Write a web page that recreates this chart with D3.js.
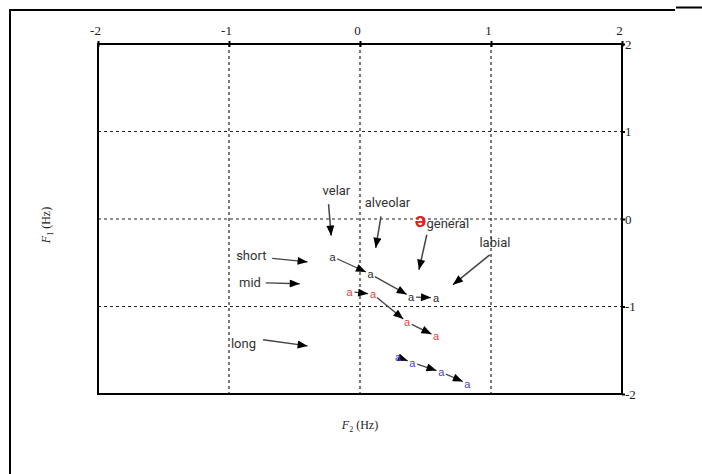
<!DOCTYPE html>
<html><head><meta charset="utf-8">
<script src="https://cdn.jsdelivr.net/npm/d3@7"></script>
<style>body{margin:0;background:#fff}svg{display:block}</style>
</head><body>
<svg id="c" width="702" height="474"></svg>
<script>
// ---- data ----
const ticks = [-2, -1, 0, 1, 2];
const gridVals = [-1, 0, 1];
const seriesNames = ["short", "mid", "long"];
const shortF2 = [-0.21, 0.08, 0.39, 0.58];
const shortF1 = [-0.43, -0.63, -0.89, -0.90];
const midF2 = [-0.08, 0.10, 0.36, 0.58];
const midF1 = [-0.83, -0.86, -1.18, -1.34];
const longF2 = [0.29, 0.40, 0.62, 0.82];
const longF1 = [-1.58, -1.64, -1.75, -1.88];
const seriesColors = ["#2a2a2a", "#e8403a", "#4040e0"];
const generalPoint = [0.46, -0.01];
const annLabels = ["velar", "alveolar", "general", "labial", "short", "mid", "long"];
const annTextX = [-0.18, 0.21, 0.67, 1.03, -0.83, -0.84, -0.89];
const annTextY = [0.33, 0.19, -0.05, -0.27, -0.42, -0.73, -1.42];
const annFromX = [-0.24, 0.16, 0.51, 0.99, -0.67, -0.72, -0.74];
const annFromY = [0.17, 0.03, -0.18, -0.41, -0.45, -0.73, -1.38];
const annToX = [-0.22, 0.12, 0.45, 0.71, -0.40, -0.46, -0.40];
const annToY = [-0.19, -0.33, -0.58, -0.75, -0.49, -0.74, -1.45];

const svg = d3.select("#c");
const x = d3.scaleLinear().domain([-2, 2]).range([98, 622]);
const y = d3.scaleLinear().domain([-2, 2]).range([394, 44]);

// outer frame
svg.append("line").attr("x1", 10).attr("x2", 675).attr("y1", 10).attr("y2", 10).attr("stroke", "#000").attr("stroke-width", 2);
svg.append("line").attr("x1", 676).attr("x2", 702).attr("y1", 7.5).attr("y2", 7.5).attr("stroke", "#000").attr("stroke-width", 2);
svg.append("line").attr("x1", 10).attr("x2", 10).attr("y1", 9).attr("y2", 474).attr("stroke", "#000").attr("stroke-width", 2);

const defs = svg.append("defs");
defs.append("marker").attr("id", "ah").attr("viewBox", "0 0 10 8").attr("refX", 10).attr("refY", 4)
  .attr("markerWidth", 12).attr("markerHeight", 8).attr("markerUnits", "userSpaceOnUse").attr("orient", "auto")
  .append("path").attr("d", "M0,0L10,4L0,8Z").attr("fill", "#000");

// grid
const g = svg.append("g");
g.selectAll(".gv").data(gridVals).join("line")
  .attr("x1", d => x(d)).attr("x2", d => x(d)).attr("y1", y(2)).attr("y2", y(-2))
  .attr("stroke", "#222").attr("stroke-width", 1.2).attr("stroke-dasharray", "3,3");
g.selectAll(".gh").data(gridVals).join("line")
  .attr("y1", d => y(d)).attr("y2", d => y(d)).attr("x1", x(-2)).attr("x2", x(2))
  .attr("stroke", "#222").attr("stroke-width", 1.2).attr("stroke-dasharray", "3,3");

// axes
const fmt = d => String(d);
const xAxis = d3.axisTop(x).tickValues(ticks).tickSize(3).tickFormat(fmt);
const yAxis = d3.axisRight(y).tickValues(ticks).tickSize(3).tickFormat(fmt);
const ax = svg.append("g").attr("transform", `translate(0,${y(2)})`).call(xAxis);
ax.selectAll(".tick line").attr("y2", -3).attr("y1", 3);
ax.selectAll("text").attr("y", -9).attr("dy", "0").attr("dx", "-3");
const ay = svg.append("g").attr("transform", `translate(${x(2)},0)`).call(yAxis);
ay.selectAll("text").attr("x", 3);
[ax, ay].forEach(a => {
  a.select(".domain").remove();
  a.selectAll(".tick line").attr("stroke", "#000").attr("stroke-width", 2);
  a.selectAll("text").attr("font-family", "Liberation Serif, serif").attr("font-size", 13).attr("fill", "#222");
});
svg.append("rect").attr("x", x(-2)).attr("y", y(2)).attr("width", x(2) - x(-2)).attr("height", y(-2) - y(2))
  .attr("fill", "none").attr("stroke", "#000").attr("stroke-width", 2);

// axis titles
const t1 = svg.append("text").attr("transform", `translate(50,225) rotate(-90)`).attr("text-anchor", "middle")
  .attr("font-family", "Liberation Serif, serif").attr("font-size", 12).attr("fill", "#222");
t1.append("tspan").attr("font-style", "italic").text("F");
t1.append("tspan").attr("font-size", 8).attr("dy", 3).text("1");
t1.append("tspan").attr("dy", -3).text(" (Hz)");
const t2 = svg.append("text").attr("x", 360).attr("y", 429).attr("text-anchor", "middle")
  .attr("font-family", "Liberation Serif, serif").attr("font-size", 12).attr("fill", "#222");
t2.append("tspan").attr("font-style", "italic").text("F");
t2.append("tspan").attr("font-size", 8).attr("dy", 3).text("2");
t2.append("tspan").attr("dy", -3).text(" (Hz)");

// annotations
const ann = annLabels.map((l, i) => ({ l, tx: annTextX[i], ty: annTextY[i], fx: annFromX[i], fy: annFromY[i], ex: annToX[i], ey: annToY[i] }));
svg.selectAll(".annl").data(ann).join("line")
  .attr("x1", d => x(d.fx)).attr("y1", d => y(d.fy)).attr("x2", d => x(d.ex)).attr("y2", d => y(d.ey))
  .attr("stroke", "#444").attr("stroke-width", 1.5).attr("marker-end", "url(#ah)");
svg.selectAll(".annt").data(ann).join("text")
  .attr("x", d => x(d.tx)).attr("y", d => y(d.ty)).attr("text-anchor", "middle").attr("dominant-baseline", "central")
  .attr("font-family", "Roboto, sans-serif").attr("font-size", 13).attr("fill", "#333").text(d => d.l);

svg.append("text").attr("x", x(generalPoint[0])).attr("y", y(generalPoint[1])).attr("text-anchor", "middle")
  .attr("dominant-baseline", "central").attr("font-family", "Liberation Sans, sans-serif").attr("font-weight", "bold")
  .attr("font-size", 21).attr("fill", "#e02020").text("ə");

// series
const series = [[shortF2, shortF1], [midF2, midF1], [longF2, longF1]];
series.forEach((s, si) => {
  const pts = s[0].map((v, i) => [x(v), y(s[1][i])]);
  const segs = d3.pairs(pts).map(([a, b]) => {
    const dx = b[0] - a[0], dy = b[1] - a[1], L = Math.hypot(dx, dy);
    const ux = dx / L, uy = dy / L;
    return [a[0] + ux * 5, a[1] + uy * 5, b[0] - ux * 5, b[1] - uy * 5];
  });
  svg.selectAll(".seg" + si).data(segs).join("line")
    .attr("x1", d => d[0]).attr("y1", d => d[1]).attr("x2", d => d[2]).attr("y2", d => d[3])
    .attr("stroke", "#444").attr("stroke-width", 1.3).attr("marker-end", "url(#ah)");
  svg.selectAll(".pt" + si).data(pts).join("text")
    .attr("x", d => d[0]).attr("y", d => d[1]).attr("text-anchor", "middle").attr("dominant-baseline", "central")
    .attr("font-family", "Liberation Sans, sans-serif").attr("font-size", 11).attr("fill", seriesColors[si]).text("a");
});
</script>
</body></html>
